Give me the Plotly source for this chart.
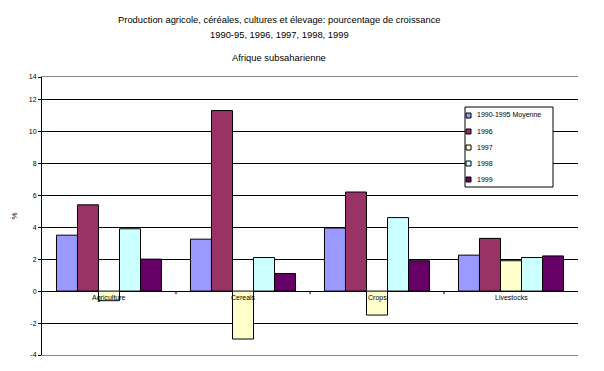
import plotly.graph_objects as go

categories = ["Agriculture", "Cereals", "Crops", "Livestocks"]
series_names = ["1990-1995 Moyenne", "1996", "1997", "1998", "1999"]
v_1990_95 = [3.5, 3.25, 3.95, 2.25]
v_1996 = [5.4, 11.3, 6.2, 3.3]
v_1997 = [-0.6, -3.0, -1.5, 1.9]
v_1998 = [3.9, 2.1, 4.6, 2.1]
v_1999 = [2.0, 1.1, 1.9, 2.2]
values = [v_1990_95, v_1996, v_1997, v_1998, v_1999]
colors = ["#9999FF", "#993366", "#FFFFCC", "#CCFFFF", "#660066"]
ytick_vals = [-4, -2, 0, 2, 4, 6, 8, 10, 12, 13.4]
ytick_text = ["-4", "-2", "0", "2", "4", "6", "8", "10", "12", "14"]

FONT = "Liberation Sans, Arial, sans-serif"
fig = go.Figure()
for name, vals, c in zip(series_names, values, colors):
    fig.add_trace(go.Bar(x=categories, y=vals, name=name, showlegend=False,
                         marker=dict(color=c, line=dict(color="black", width=1))))

W, H = 604, 371
L, R, T, B = 42, 26, 77, 16
PW, PH = W - L - R, H - T - B


def px(xp):
    return (xp - L) / PW


def py(yp):
    return (H - B - yp) / PH


fig.update_layout(
    width=W, height=H, margin=dict(l=L, r=R, t=T, b=B, autoexpand=False),
    paper_bgcolor="white", plot_bgcolor="white",
    barmode="group", bargap=0.216, bargroupgap=0,
    font=dict(family=FONT, size=7, color="black"),
    showlegend=False,
    xaxis=dict(showticklabels=False, showgrid=False, zeroline=False,
               showline=True, linecolor="#888888", linewidth=1, mirror=True,
               range=[-0.5, 3.5], automargin=False),
    yaxis=dict(range=[-4, 13.4], tickvals=ytick_vals, ticktext=ytick_text,
               showgrid=True, gridcolor="black", gridwidth=1,
               zeroline=True, zerolinecolor="black", zerolinewidth=1,
               showline=True, linecolor="black", linewidth=1,
               ticks="outside", ticklen=3, tickcolor="black",
               tickfont=dict(size=7), automargin=False,
               title=dict(text="%", font=dict(size=8), standoff=10)),
)
for xb in [0.5, 1.5, 2.5]:
    fig.add_shape(type="line", xref="x", yref="y", x0=xb, x1=xb, y0=0, y1=-0.2,
                  line=dict(color="black", width=1))
for cat in categories:
    fig.add_annotation(x=cat, y=0, xref="x", yref="y", text=cat, showarrow=False,
                       yanchor="top", yshift=-1, font=dict(size=7))

# legend box drawn by hand to match the original compact layout
fig.add_shape(type="rect", xref="paper", yref="paper",
              x0=px(465), x1=px(553), y0=py(187), y1=py(107),
              line=dict(color="black", width=1), fillcolor="white", layer="above")
for i, (name, c) in enumerate(zip(series_names, colors)):
    yc = 115 + 16 * i
    fig.add_shape(type="rect", xref="paper", yref="paper",
                  x0=px(466), x1=px(471), y0=py(yc + 3), y1=py(yc - 2),
                  line=dict(color="black", width=1), fillcolor=c, layer="above")
    fig.add_annotation(x=px(475), y=py(yc), xref="paper", yref="paper",
                       xanchor="left", yanchor="middle", showarrow=False,
                       text=name, font=dict(size=7))

titles = [("Production agricole, céréales, cultures et élevage: pourcentage de croissance", 20),
          ("1990-95, 1996, 1997, 1998, 1999", 34),
          ("Afrique subsaharienne", 58)]
for txt, yp in titles:
    fig.add_annotation(x=px(279), y=py(yp), xref="paper", yref="paper",
                       xanchor="center", yanchor="middle", showarrow=False,
                       text=txt, font=dict(size=9.4))
fig.write_html("out.html", config={"displayModeBar": False},
               post_script="document.body.style.margin='0';")
